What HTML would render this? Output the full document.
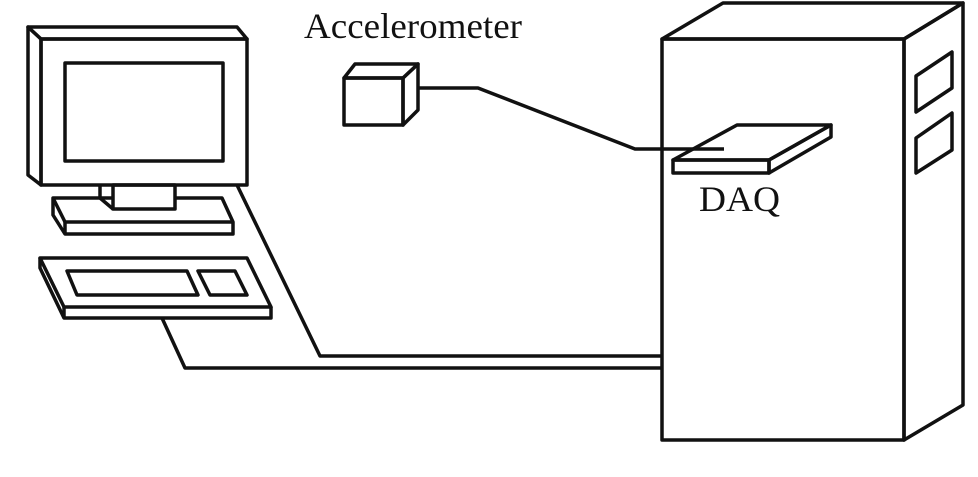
<!DOCTYPE html>
<html><head><style>html,body{margin:0;padding:0;background:#fff}svg{display:block}</style></head>
<body>
<svg width="978" height="477" viewBox="0 0 978 477" xmlns="http://www.w3.org/2000/svg">
<g fill="none" stroke="#111" stroke-width="3.5" stroke-linejoin="round">
<!-- monitor -->
<polygon points="28,27 237,27 247,39 41,39"/>
<polygon points="28,27 41,39 41,185 28,175"/>
<rect x="41" y="39" width="206" height="146"/>
<rect x="65" y="63" width="158" height="98"/>
<polyline points="100,185 100,198 113,209"/>
<rect x="113" y="185" width="62" height="24"/>
<polyline points="113,198 53,198 53,215 65,234 233,234 233,222 222,198 175,198"/>
<polyline points="53,198 65,222 233,222"/>
<line x1="65" y1="222" x2="65" y2="234"/>
<!-- keyboard -->
<polygon points="40,258 247,258 271,307 64,307"/>
<polyline points="40,258 40,268 64,318 271,318 271,307"/>
<line x1="64" y1="307" x2="64" y2="318"/>
<polygon points="67,271 187,271 198,295 77,295"/>
<polygon points="198,271 235,271 247,295 210,295"/>
<!-- cables -->
<polyline points="237,185 320,356 662,356"/>
<polyline points="162,318 185,368 662,368"/>
<!-- accelerometer -->
<polygon points="344,78 355,64 418,64 403,78"/>
<polygon points="403,78 418,64 418,110 403,125"/>
<rect x="344" y="78" width="59" height="47"/>
<polyline points="418,88 478,88 635,149 724,149"/>
<!-- tower -->
<polygon points="662,39 723,3 963,3 904,39"/>
<rect x="662" y="39" width="242" height="401"/>
<polygon points="904,39 963,3 963,405 904,440"/>
<polygon points="916,76 952,52 952,88 916,112"/>
<polygon points="916,138 952,113 952,150 916,173"/>
<!-- DAQ card -->
<polygon points="673,160 737,125 831,125 769,160"/>
<rect x="673" y="160" width="96" height="13"/>
<polygon points="769,160 831,125 831,137 769,173"/>
</g>
<g font-family="Liberation Serif, serif" fill="#111">
<text x="304" y="38" font-size="36" textLength="218" lengthAdjust="spacingAndGlyphs">Accelerometer</text>
<text x="699" y="211" font-size="36" textLength="81" lengthAdjust="spacingAndGlyphs">DAQ</text>
</g>
</svg>
</body></html>
